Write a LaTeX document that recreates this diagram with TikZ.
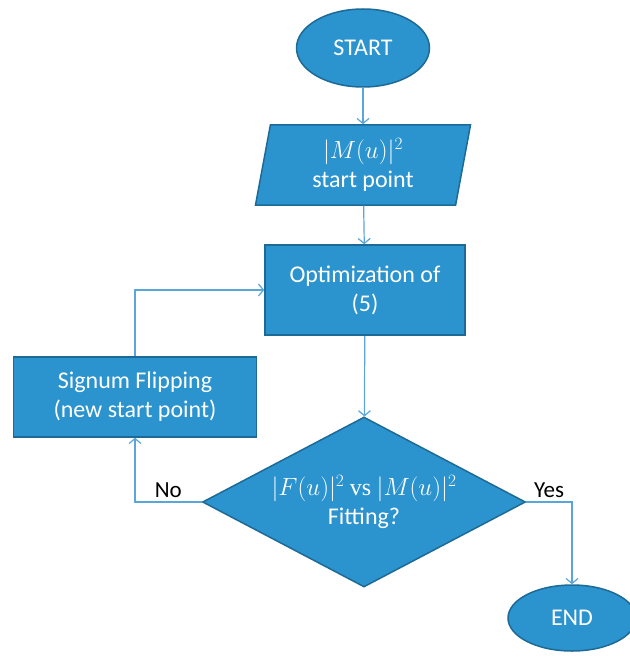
\documentclass[tikz,border=0pt]{standalone}
\usepackage{amsmath}
\usepackage{fontspec}
\setmainfont{Carlito}
\newfontfamily\vsfont{Liberation Serif}
\usetikzlibrary{shapes.geometric,arrows.meta}
\definecolor{boxblue}{HTML}{2B93CD}
\definecolor{edgeblue}{HTML}{1D6A96}
\definecolor{lineblue}{HTML}{5AA5DA}

\begin{document}
\begin{tikzpicture}[x=1pt,y=-1pt,
  blk/.style={fill=boxblue,draw=edgeblue,line width=1.5pt,text=white,
    font=\fontsize{24}{29}\selectfont,align=center},
  term/.style={blk,ellipse,minimum width=133pt,minimum height=78pt},
  io/.style={blk,trapezium,trapezium left angle=76,trapezium right angle=104,
    trapezium stretches body,minimum width=215pt,minimum height=80pt},
  proc/.style={blk,rectangle,minimum width=200pt,minimum height=90pt},
  test/.style={blk,diamond,aspect=2,minimum width=323pt,minimum height=170pt,inner sep=0pt},
  flow/.style={draw=lineblue,line width=1.2pt,-{Straight Barb[length=5pt,width=12pt]}},
  lbl/.style={text=black,font=\fontsize{23}{27}\selectfont}]
  \useasboundingbox (0,0) rectangle (629,658);
  \node[term] (start) at (363,48) {START};
  \node[io] (init) at (363,165) {$|M(u)|^2$\\start point};
  \node[proc] (opt) at (365,290) {Optimization of\\(5)};
  \node[proc,minimum width=243pt,minimum height=80pt] (flip) at (135,397)
    {Signum Flipping\\(new start point)};
  \node[test] (fit) at (364,502) {$|F(u)|^2$ {\vsfont vs} $|M(u)|^2$\\Fitting?};
  \node[term,minimum width=128pt,minimum height=66pt] (stop) at (572,618) {END};
  \path
  (start) edge[flow] (init)
  (init) edge[flow] (opt)
  (opt) edge[flow] (fit)
  ;
  \draw[flow] (flip.north) |- (opt.west);
  \draw[flow] (fit.west) -| node[lbl,pos=0.25,above] {No} (flip.south);
  \draw[flow] (fit.east) -| node[lbl,pos=0.25,above] {Yes} (stop.north);
\end{tikzpicture}
\end{document}
